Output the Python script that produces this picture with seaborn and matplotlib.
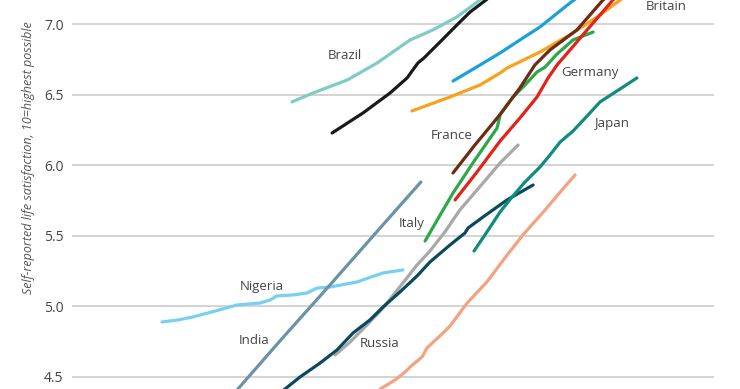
import matplotlib
matplotlib.use("Agg")
import matplotlib.pyplot as plt
import seaborn as sns
import pandas as pd

# x: GDP per person, log10 (notional); y: self-reported life satisfaction
nigeria_x = [3.040, 3.093, 3.143, 3.217, 3.290, 3.367, 3.400, 3.423, 3.477, 3.523, 3.557, 3.600, 3.690, 3.777, 3.843]
nigeria_y = [4.890, 4.904, 4.925, 4.967, 5.010, 5.024, 5.045, 5.074, 5.081, 5.095, 5.130, 5.137, 5.173, 5.237, 5.258]
india_x = [3.267, 3.293, 3.433, 3.600, 3.767, 3.903]
india_y = [4.358, 4.415, 4.755, 5.152, 5.555, 5.881]
salmon_x = [3.750, 3.773, 3.817, 3.850, 3.867, 3.907, 3.923, 3.977, 4.000, 4.057, 4.123, 4.183, 4.243, 4.317, 4.373, 4.417]
salmon_y = [4.387, 4.422, 4.479, 4.535, 4.571, 4.642, 4.705, 4.812, 4.861, 5.024, 5.173, 5.343, 5.506, 5.683, 5.824, 5.931]
russia_x = [3.617, 3.667, 3.723, 3.777, 3.843, 3.890, 3.933, 3.983, 4.033, 4.110, 4.167, 4.227]
russia_y = [4.656, 4.748, 4.868, 4.989, 5.166, 5.293, 5.392, 5.527, 5.683, 5.874, 6.016, 6.143]
navy_x = [3.383, 3.450, 3.500, 3.567, 3.623, 3.677, 3.733, 3.777, 3.833, 3.890, 3.933, 4.000, 4.050, 4.060, 4.110, 4.190, 4.277]
navy_y = [4.302, 4.415, 4.500, 4.599, 4.691, 4.812, 4.904, 4.996, 5.102, 5.215, 5.314, 5.435, 5.520, 5.555, 5.633, 5.754, 5.860]
brazil_x = [3.473, 3.543, 3.657, 3.757, 3.867, 3.943, 4.023, 4.100, 4.183]
brazil_y = [6.448, 6.511, 6.603, 6.724, 6.887, 6.958, 7.050, 7.170, 7.276]
black_x = [3.607, 3.710, 3.800, 3.857, 3.893, 3.913, 3.967, 4.023, 4.067, 4.133, 4.167]
black_y = [6.228, 6.370, 6.511, 6.618, 6.724, 6.759, 6.873, 6.993, 7.085, 7.191, 7.255]
blue_x = [4.010, 4.083, 4.167, 4.233, 4.300, 4.350, 4.400, 4.450]
blue_y = [6.596, 6.688, 6.795, 6.887, 6.979, 7.064, 7.149, 7.227]
orange_x = [3.873, 4.000, 4.100, 4.167, 4.190, 4.300, 4.410, 4.500, 4.567, 4.633]
orange_y = [6.384, 6.483, 6.568, 6.653, 6.688, 6.802, 6.936, 7.064, 7.170, 7.255]
japan_x = [4.080, 4.123, 4.167, 4.207, 4.250, 4.300, 4.333, 4.367, 4.410, 4.457, 4.500, 4.567, 4.623]
japan_y = [5.392, 5.527, 5.669, 5.775, 5.881, 5.987, 6.072, 6.164, 6.242, 6.348, 6.448, 6.540, 6.618]
green_x = [3.917, 3.967, 4.010, 4.083, 4.157, 4.167, 4.210, 4.250, 4.290, 4.317, 4.357, 4.410, 4.477]
green_y = [5.463, 5.647, 5.803, 6.037, 6.263, 6.356, 6.483, 6.568, 6.660, 6.695, 6.788, 6.887, 6.943]
brown_x = [4.010, 4.083, 4.160, 4.233, 4.283, 4.333, 4.423, 4.510, 4.567]
brown_y = [5.945, 6.143, 6.341, 6.547, 6.710, 6.816, 6.958, 7.170, 7.255]
red_x = [4.017, 4.090, 4.167, 4.233, 4.290, 4.327, 4.357, 4.400, 4.457, 4.500, 4.543, 4.600]
red_y = [5.754, 5.952, 6.171, 6.334, 6.483, 6.618, 6.710, 6.816, 6.958, 7.064, 7.170, 7.276]

series = [
    ("Nigeria", nigeria_x, nigeria_y, "#79cff0"),
    ("India", india_x, india_y, "#6a93a6"),
    ("Salmon", salmon_x, salmon_y, "#f4a284"),
    ("Russia", russia_x, russia_y, "#a8a8a8"),
    ("Navy", navy_x, navy_y, "#0b4a5e"),
    ("Brazil", brazil_x, brazil_y, "#7fccc6"),
    ("Black", black_x, black_y, "#1a1a1a"),
    ("Blue", blue_x, blue_y, "#1aa1db"),
    ("Orange", orange_x, orange_y, "#f7a21b"),
    ("Japan", japan_x, japan_y, "#0f8c7e"),
    ("Green", green_x, green_y, "#2aa84a"),
    ("Brown", brown_x, brown_y, "#6e2a12"),
    ("Red", red_x, red_y, "#e3231b"),
]

labels = ["Brazil", "Nigeria", "India", "Russia", "Italy", "France", "Germany", "Japan", "Britain"]
label_x = [3.650, 3.373, 3.347, 3.767, 3.873, 4.007, 4.467, 4.537, 4.720]
label_y = [6.780, 5.144, 4.755, 4.734, 5.584, 6.207, 6.660, 6.292, 7.125]

yticks = [4.5, 5.0, 5.5, 6.0, 6.5, 7.0]

rows = []
for name, xs, ys, _ in series:
    for i, (a, b) in enumerate(zip(xs, ys)):
        rows.append({"country": name, "x": a, "y": b, "order": i})
df = pd.DataFrame(rows)
palette = {name: c for name, _, _, c in series}

sns.set_theme(style="white")
plt.rcParams["font.family"] = ["Open Sans", "DejaVu Sans"]

fig = plt.figure(figsize=(7.4, 3.89), dpi=100)
ax = fig.add_axes([72 / 740, 0.0, 642 / 740, 1.0])
ax.set_facecolor("white")

sns.lineplot(data=df, x="x", y="y", hue="country", hue_order=[s[0] for s in series],
             palette=palette, sort=False, estimator=None, legend=False,
             linewidth=2.3, ax=ax, zorder=3)

ax.set_xlim(2.74, 4.88)
ax.set_ylim(4.415, 7.170)
ax.set_yticks(yticks)
ax.set_yticklabels([f"{v:.1f}" for v in yticks], fontsize=10, color="#444444")
ax.set_xticks([])
ax.tick_params(axis="y", length=0, pad=6)
ax.grid(axis="y", color="#cccccc", linewidth=1.2, zorder=0)
ax.set_axisbelow(True)
for s in ax.spines.values():
    s.set_visible(False)
ax.set_xlabel("")
ax.set_ylabel("Self-reported life satisfaction, 10=highest possible",
              fontsize=9, style="italic", color="#555555")
ax.yaxis.set_label_coords(-0.0576, 0.594)

for t, x, y in zip(labels, label_x, label_y):
    ax.text(x, y, t, fontsize=9.5, color="#444444", ha="center", va="center",
            zorder=5, clip_on=False)

fig.savefig("out.png", dpi=100, facecolor="white")
